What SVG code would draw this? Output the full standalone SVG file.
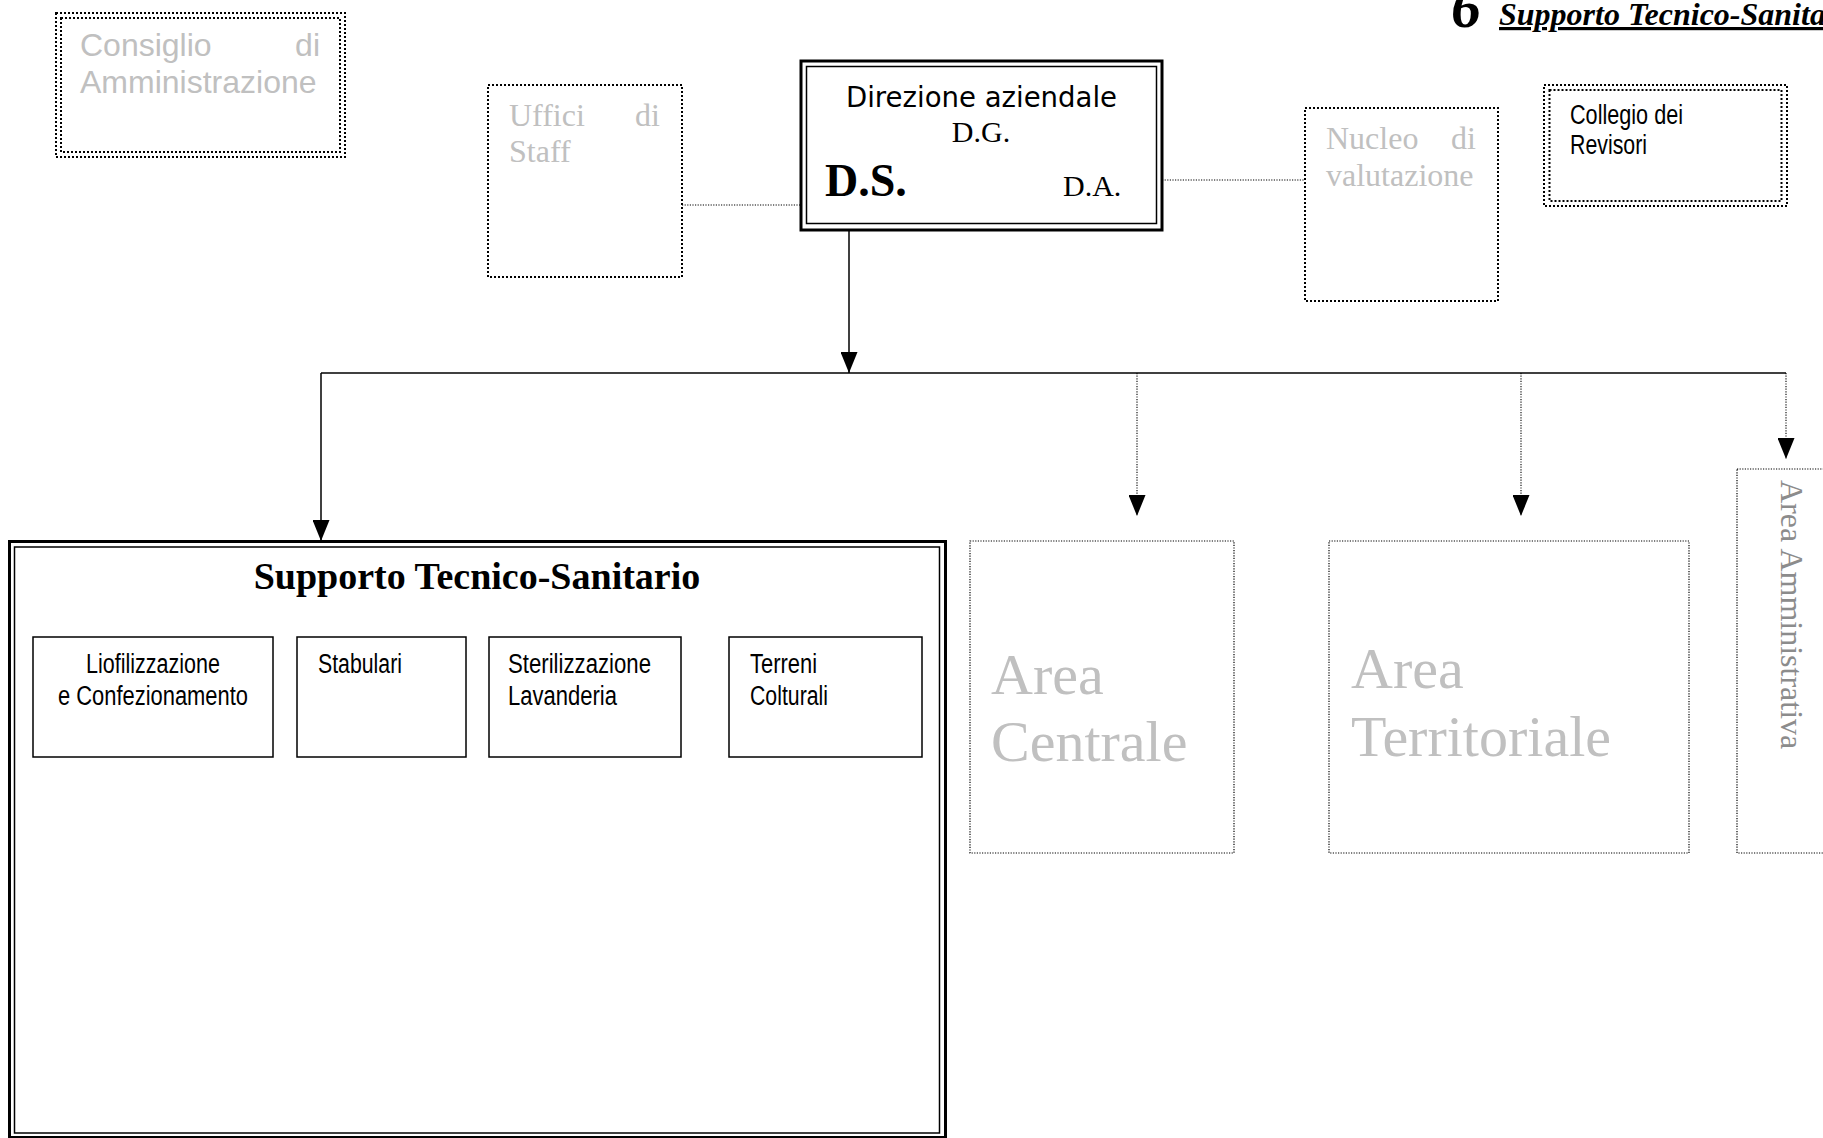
<svg xmlns="http://www.w3.org/2000/svg" width="1823" height="1138" viewBox="0 0 1823 1138">
<style>
  .bg { fill: #ffffff; }
  .dot2 { fill: none; stroke: #000; stroke-width: 2; stroke-dasharray: 2 2; }
  .dot1 { fill: none; stroke: #000; stroke-width: 1.2; stroke-dasharray: 1.2 1.4; }
  .solid { fill: none; stroke: #000; stroke-width: 1.5; }
  .thick { fill: none; stroke: #000; stroke-width: 3; }
  .thin { fill: none; stroke: #000; stroke-width: 1.5; }
  .conn { fill: none; stroke: #000; stroke-width: 1.5; }
  .connd { fill: none; stroke: #000; stroke-width: 1.1; stroke-dasharray: 1.2 1.4; }
  .sansg { font-family: "Liberation Sans", Arial, sans-serif; font-size: 32px; fill: #c0c0c0; }
  .serifg { font-family: "Liberation Serif", "Times New Roman", serif; font-size: 32px; fill: #c0c0c0; }
  .areag { font-family: "Liberation Serif", "Times New Roman", serif; font-size: 58px; fill: #c0c0c0; }
  .narrow { font-family: "Liberation Sans", Arial, sans-serif; font-size: 27px; fill: #000; }
  .tnr { font-family: "Liberation Serif", "Times New Roman", serif; fill: #000; }
</style>
<defs>
  <marker id="arrow" viewBox="0 0 21 17" markerWidth="21" markerHeight="17" refX="21" refY="8.5" orient="auto" markerUnits="userSpaceOnUse">
    <path d="M0,0 L21,8.5 L0,17 Z" fill="#000" stroke="none"/>
  </marker>
</defs>
<rect class="bg" x="0" y="0" width="1823" height="1138"/>

<g id="header">
  <text x="1451" y="27" class="tnr" font-size="60" font-weight="bold" font-style="italic">6</text>
  <text x="1499" y="25" class="tnr" font-size="32" font-weight="bold" font-style="italic" text-decoration="underline">Supporto Tecnico-Sanita</text>
</g>

<g id="connectors">
  <line class="connd" x1="682" y1="205" x2="801" y2="205"/>
  <line class="connd" x1="1162" y1="180" x2="1305" y2="180"/>
  <line class="conn" x1="849" y1="230" x2="849" y2="373" marker-end="url(#arrow)"/>
  <line class="conn" x1="321" y1="373" x2="1786" y2="373"/>
  <line class="conn" x1="321" y1="373" x2="321" y2="541" marker-end="url(#arrow)"/>
  <line class="connd" x1="1137" y1="373" x2="1137" y2="516" marker-end="url(#arrow)"/>
  <line class="connd" x1="1521" y1="373" x2="1521" y2="516" marker-end="url(#arrow)"/>
  <line class="connd" x1="1786" y1="373" x2="1786" y2="459" marker-end="url(#arrow)"/>
</g>

<g id="consiglio">
  <rect class="dot2" x="56" y="13" width="289" height="144"/>
  <rect class="dot2" x="61" y="18" width="279" height="134"/>
  <text class="sansg" x="80" y="56">Consiglio</text>
  <text class="sansg" x="320" y="56" text-anchor="end">di</text>
  <text class="sansg" x="80" y="93">Amministrazione</text>
</g>

<g id="uffici">
  <rect class="dot2" x="488" y="85" width="194" height="192"/>
  <text class="serifg" x="509" y="126">Uffici</text>
  <text class="serifg" x="660" y="126" text-anchor="end">di</text>
  <text class="serifg" x="509" y="162">Staff</text>
</g>

<g id="direzione">
  <rect class="thick" x="801" y="61" width="361" height="169"/>
  <rect class="thin" x="806.5" y="66.5" width="350" height="157"/>
  <text x="846" y="107" font-family="'DejaVu Sans', Tahoma, Verdana, sans-serif" font-size="29" textLength="271" lengthAdjust="spacingAndGlyphs" fill="#000">Direzione aziendale</text>
  <text class="tnr" x="981" y="142" font-size="30" text-anchor="middle">D.G.</text>
  <text class="tnr" x="825" y="196" font-size="46" font-weight="bold">D.S.</text>
  <text class="tnr" x="1063" y="196" font-size="30">D.A.</text>
</g>

<g id="nucleo">
  <rect class="dot2" x="1305" y="108" width="193" height="193"/>
  <text class="serifg" x="1326" y="149">Nucleo</text>
  <text class="serifg" x="1476" y="149" text-anchor="end">di</text>
  <text class="serifg" x="1326" y="186">valutazione</text>
</g>

<g id="collegio">
  <rect class="dot2" x="1544" y="85" width="243" height="121"/>
  <rect class="dot2" x="1549.5" y="90" width="232" height="111"/>
  <text class="narrow" x="1570" y="124" textLength="113" lengthAdjust="spacingAndGlyphs">Collegio dei</text>
  <text class="narrow" x="1570" y="154" textLength="77" lengthAdjust="spacingAndGlyphs">Revisori</text>
</g>

<g id="supporto">
  <rect class="thick" x="9.5" y="541.5" width="936" height="596"/>
  <rect class="thin" x="14.5" y="547" width="925" height="586"/>
  <text class="tnr" x="477" y="589" font-size="38" font-weight="bold" text-anchor="middle">Supporto Tecnico-Sanitario</text>
</g>

<g id="liofilizzazione">
  <rect class="solid" x="33" y="637" width="240" height="120"/>
  <text class="narrow" x="86" y="673" textLength="134" lengthAdjust="spacingAndGlyphs">Liofilizzazione</text>
  <text class="narrow" x="58" y="705" textLength="190" lengthAdjust="spacingAndGlyphs">e Confezionamento</text>
</g>

<g id="stabulari">
  <rect class="solid" x="297" y="637" width="169" height="120"/>
  <text class="narrow" x="318" y="673" textLength="84" lengthAdjust="spacingAndGlyphs">Stabulari</text>
</g>

<g id="sterilizzazione">
  <rect class="solid" x="489" y="637" width="192" height="120"/>
  <text class="narrow" x="508" y="673" textLength="143" lengthAdjust="spacingAndGlyphs">Sterilizzazione</text>
  <text class="narrow" x="508" y="705" textLength="109" lengthAdjust="spacingAndGlyphs">Lavanderia</text>
</g>

<g id="terreni">
  <rect class="solid" x="729" y="637" width="193" height="120"/>
  <text class="narrow" x="750" y="673" textLength="67" lengthAdjust="spacingAndGlyphs">Terreni</text>
  <text class="narrow" x="750" y="705" textLength="78" lengthAdjust="spacingAndGlyphs">Colturali</text>
</g>

<g id="area-centrale">
  <rect class="dot1" x="970" y="541" width="264" height="312"/>
  <text class="areag" x="991" y="694">Area</text>
  <text class="areag" x="991" y="761">Centrale</text>
</g>

<g id="area-territoriale">
  <rect class="dot1" x="1329" y="541" width="360" height="312"/>
  <text class="areag" x="1351" y="688">Area</text>
  <text class="areag" x="1351" y="756">Territoriale</text>
</g>

<g id="area-amministrativa">
  <rect class="dot1" x="1737" y="469" width="120" height="384"/>
  <text transform="translate(1781,480) rotate(90)" font-family="'Liberation Serif', 'Times New Roman', serif" font-size="32" fill="#8c8c8c">Area Amministrativa</text>
</g>
</svg>
